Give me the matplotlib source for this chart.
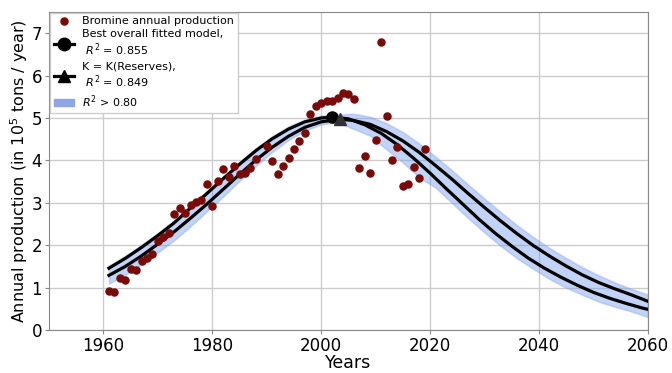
import matplotlib.pyplot as plt
import numpy as np

# observed bromine production (1e5 tons / year)
obs_years = [1961, 1962, 1963, 1964, 1965, 1966, 1967, 1968, 1969, 1970,
             1971, 1972, 1973, 1974, 1975, 1976, 1977, 1978, 1979, 1980,
             1981, 1982, 1983, 1984, 1985, 1986, 1987, 1988, 1990, 1991,
             1992, 1993, 1994, 1995, 1996, 1997, 1998, 1999, 2000, 2001,
             2002, 2003, 2004, 2005, 2006, 2007, 2008, 2009, 2010, 2011,
             2012, 2013, 2014, 2015, 2016, 2017, 2018, 2019]
obs_prod = [0.92, 0.90, 1.23, 1.18, 1.43, 1.42, 1.62, 1.70, 1.79, 2.10,
            2.20, 2.30, 2.74, 2.88, 2.76, 2.95, 3.02, 3.07, 3.44, 2.92,
            3.51, 3.80, 3.60, 3.87, 3.68, 3.70, 3.82, 4.03, 4.34, 3.99,
            3.68, 3.87, 4.06, 4.27, 4.46, 4.65, 5.09, 5.28, 5.35, 5.40,
            5.40, 5.47, 5.59, 5.57, 5.45, 3.82, 4.10, 3.70, 4.48, 6.80,
            5.05, 4.00, 4.31, 3.40, 3.44, 3.84, 3.58, 4.27]

# best overall fitted model
best_years = [1961, 1964, 1967, 1970, 1973, 1976, 1979, 1982, 1985, 1988,
              1991, 1994, 1997, 2000, 2002, 2005, 2008, 2011, 2014, 2017,
              2020, 2023, 2026, 2029, 2032, 2035, 2038, 2041, 2044, 2047,
              2050, 2053, 2056, 2059, 2060]
best_prod = [1.46, 1.69, 1.95, 2.23, 2.53, 2.88, 3.22, 3.57, 3.91, 4.23,
             4.51, 4.74, 4.91, 5.00, 5.02, 4.98, 4.84, 4.64, 4.37, 4.05,
             3.70, 3.33, 2.97, 2.61, 2.28, 1.98, 1.70, 1.46, 1.25, 1.06,
             0.89, 0.75, 0.63, 0.52, 0.49]
best_peak = (2002, 5.02)

# K = K(Reserves) model
kres_years = [1961, 1964, 1967, 1970, 1973, 1976, 1979, 1982, 1985, 1988,
              1991, 1994, 1997, 2000, 2003.5, 2006, 2009, 2012, 2015, 2018,
              2021, 2024, 2027, 2030, 2033, 2036, 2039, 2042, 2045, 2048,
              2051, 2054, 2057, 2060]
kres_prod = [1.29, 1.50, 1.75, 2.03, 2.32, 2.64, 2.97, 3.32, 3.67, 4.01,
             4.31, 4.57, 4.78, 4.91, 4.97, 4.94, 4.85, 4.68, 4.46, 4.19,
             3.88, 3.56, 3.22, 2.89, 2.57, 2.27, 1.99, 1.74, 1.51, 1.30,
             1.12, 0.97, 0.83, 0.68]
kres_peak = (2003.5, 4.97)

# envelope of models with R2 > 0.80
band_years = [1961, 1964, 1967, 1970, 1973, 1976, 1979, 1982, 1985, 1988,
              1991, 1994, 1997, 2000, 2003, 2006, 2009, 2012, 2015, 2018,
              2021, 2024, 2027, 2030, 2033, 2036, 2039, 2042, 2045, 2048,
              2051, 2054, 2057, 2060]
band_upper = [1.52, 1.75, 2.01, 2.29, 2.59, 2.94, 3.28, 3.63, 3.97, 4.29,
              4.57, 4.80, 4.96, 5.06, 5.08, 5.10, 5.03, 4.88, 4.67, 4.40,
              4.09, 3.77, 3.43, 3.10, 2.78, 2.47, 2.19, 1.93, 1.70, 1.48,
              1.29, 1.12, 0.97, 0.84]
band_lower = [1.10, 1.30, 1.55, 1.83, 2.12, 2.45, 2.80, 3.15, 3.52, 3.87,
              4.20, 4.48, 4.70, 4.85, 4.90, 4.74, 4.58, 4.26, 3.95, 3.60,
              3.36, 3.00, 2.64, 2.30, 1.98, 1.69, 1.44, 1.20, 1.00, 0.83,
              0.67, 0.55, 0.44, 0.31]

fig = plt.figure(figsize=(6.72, 3.73), dpi=100)
ax = fig.add_axes([0.073, 0.115, 0.891, 0.853])

ax.fill_between(band_years, band_lower, band_upper, color='cornflowerblue',
                alpha=0.4, lw=1.2, edgecolor=(0.55, 0.65, 0.9, 0.6), zorder=2)
ax.plot(best_years, best_prod, color='black', lw=2.3, zorder=3)
ax.plot(kres_years, kres_prod, color='black', lw=2.3, zorder=3)
ax.plot(*best_peak, 'o', color='black', ms=8, zorder=4)
ax.plot(*kres_peak, '^', color='#333333', ms=8, zorder=4)
ax.scatter(obs_years, obs_prod, s=26, color='#7a0a0a', zorder=5)

# legend handles
h_obs = ax.scatter([], [], s=26, color='#7a0a0a')
h_best, = ax.plot([], [], color='black', lw=2.3, marker='o', ms=9)
h_kres, = ax.plot([], [], color='black', lw=2.3, marker='^', ms=8)
h_band = plt.Rectangle((0, 0), 1, 1, color='#8ea6e3')
ax.legend([h_obs, h_best, h_kres, h_band],
          ['Bromine annual production', 'Best overall fitted model,\n $R^2$ = 0.855',
           'K = K(Reserves),\n $R^2$ = 0.849', '$R^2$ > 0.80'],
          loc='upper left', fontsize=8, frameon=True, fancybox=False,
          edgecolor='#cccccc', framealpha=1, borderaxespad=0.1,
          handlelength=1.8, labelspacing=0.25, borderpad=0.3)

ax.set_xlim(1950, 2060)
ax.set_ylim(0, 7.5)
ax.set_xticks([1960, 1980, 2000, 2020, 2040, 2060])
ax.set_yticks(range(0, 8))
ax.grid(True, color='#cccccc', lw=1)
ax.set_axisbelow(True)
for s in ax.spines.values():
    s.set_color('#888888')
ax.tick_params(labelsize=12, length=3, color='#888888', pad=2)
ax.set_xlabel('Years', fontsize=12.5, labelpad=-1)
ax.set_ylabel('Annual production (in 10$^5$ tons / year)', fontsize=11.5, labelpad=1)

fig.savefig('out.png', dpi=100)
